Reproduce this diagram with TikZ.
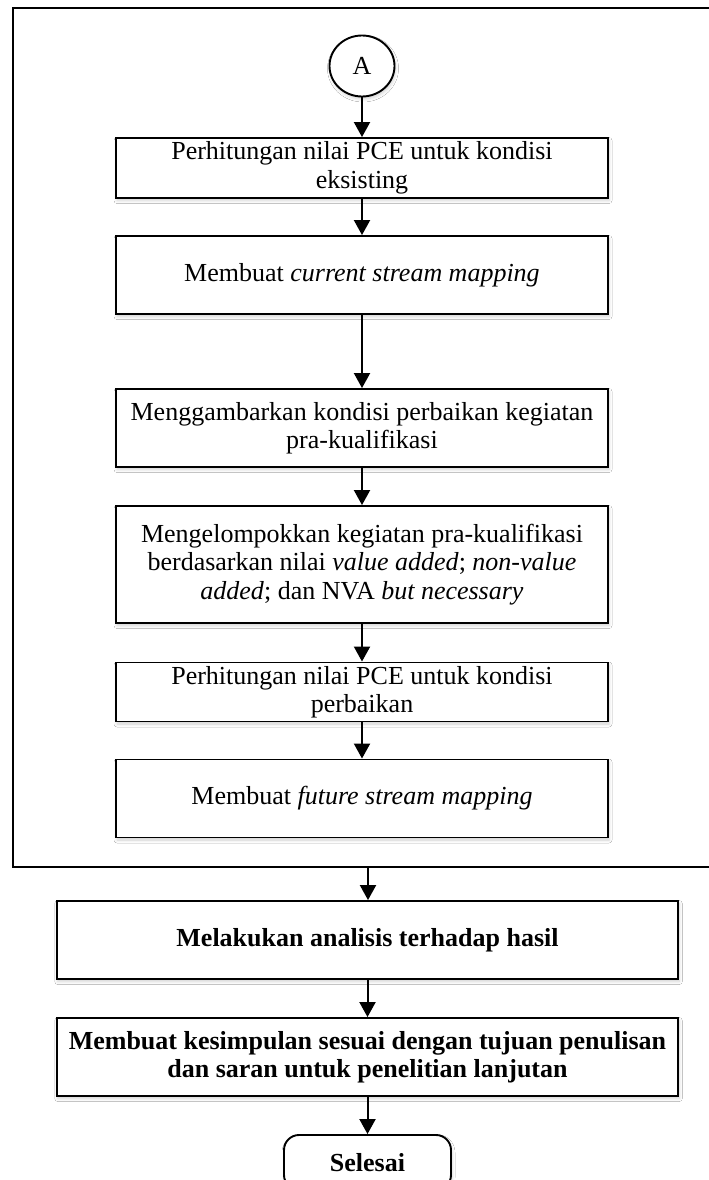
\documentclass[tikz,border=0pt]{standalone}
\usepackage{fontspec}
\setmainfont{Liberation Serif}
\usetikzlibrary{arrows.meta,shapes.geometric,shadows.blur}

\tikzset{
  every node/.style={font=\fontsize{26}{28.5}\selectfont},
  haze/.style={blur shadow={shadow xshift=1pt,shadow yshift=-2.5pt,shadow blur radius=3pt,shadow opacity=18}},
  stepbox/.style={draw,line width=1.9pt,rectangle,inner sep=0pt,align=center,fill=white,haze},
  boldbox/.style={stepbox,font=\fontsize{26}{28.5}\selectfont\bfseries},
  flow/.style={line width=2pt,-{Triangle[width=16pt,length=15pt]}},
}

\begin{document}
\begin{tikzpicture}[x=1pt,y=-1pt]
\useasboundingbox (0,0) rectangle (709,1180);
\fill[white] (0,0) rectangle (709,1180);

% outer frame around the improvement steps
\draw[line width=1.9pt] (12.7,8.3) rectangle (760,867);
\coordinate (frameout) at (368,867);

% connector circle
\node[draw,line width=1.9pt,ellipse,minimum width=65pt,minimum height=61pt,inner sep=0pt,fill=white,haze] (A) at (362,66) {A};

% steps inside the frame
\node[stepbox,minimum width=492pt,minimum height=60pt] (b1) at (362,168)
  {Perhitungan nilai PCE untuk kondisi\\eksisting};
\node[stepbox,minimum width=492pt,minimum height=78pt] (b2) at (362,275)
  {Membuat \textit{current stream mapping}};
\node[stepbox,minimum width=492pt,minimum height=78pt] (b3) at (362,428)
  {Menggambarkan kondisi perbaikan kegiatan\\pra-kualifikasi};
\node[stepbox,minimum width=492pt,minimum height=117pt] (b4) at (362,564.5)
  {Mengelompokkan kegiatan pra-kualifikasi\\berdasarkan nilai \textit{value added}; \textit{non-value}\\\textit{added}; dan NVA \textit{but necessary}};
\node[stepbox,minimum width=492pt,minimum height=59pt] (b5) at (362,692)
  {Perhitungan nilai PCE untuk kondisi\\perbaikan};
\node[stepbox,minimum width=492pt,minimum height=78pt] (b6) at (362,798.5)
  {Membuat \textit{future stream mapping}};

% final steps
\node[boldbox,minimum width=621.5pt,minimum height=78pt] (b7) at (367.5,940)
  {Melakukan analisis terhadap hasil};
\node[boldbox,minimum width=621.5pt,minimum height=78pt] (b8) at (367.5,1057)
  {Membuat kesimpulan sesuai dengan tujuan penulisan\\dan saran untuk penelitian lanjutan};
\node[boldbox,rounded corners=15pt,minimum width=167pt,minimum height=55pt] (end) at (367.5,1162.5)
  {Selesai};

% connectors
\draw[flow] (A) -- (b1);
\draw[flow] (b1) -- (b2);
\draw[flow] (b2) -- (b3);
\draw[flow] (b3) -- (b4);
\draw[flow] (b4) -- (b5);
\draw[flow] (b5) -- (b6);
\draw[flow] (frameout) -- (frameout |- b7.north);
\draw[flow] (b7) -- (b8);
\draw[flow] (b8) -- (end);
\end{tikzpicture}
\end{document}
